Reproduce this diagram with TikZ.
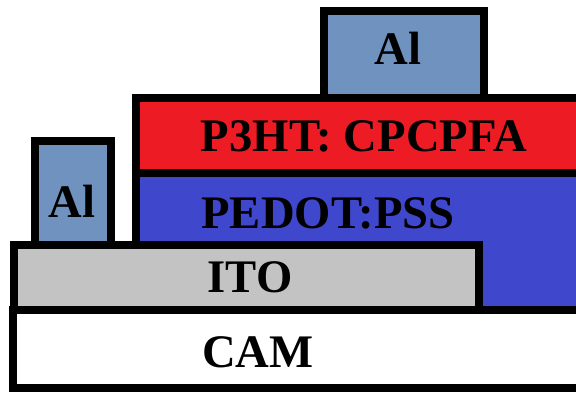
\documentclass[tikz,border=0pt]{standalone}
\usepackage{fontspec}
\setmainfont{Liberation Serif}
\usepackage{tikz}

\definecolor{alblue}{RGB}{112,146,190}
\definecolor{p3red}{RGB}{237,28,36}
\definecolor{pedblue}{RGB}{63,72,204}
\definecolor{itogray}{RGB}{195,195,195}

\tikzset{
  layer/.style={draw=black,line width=6.5pt},
  lbl/.style={inner sep=0pt,font=\fontsize{35}{38}\selectfont\bfseries,text=black}
}

\begin{document}
\begin{tikzpicture}[x=0.75pt,y=0.75pt,yscale=-1,xscale=1]
\useasboundingbox (0,0) rectangle (576,394);
\clip (0,0) rectangle (576,394);

% Shape: Rectangle [PEDOT:PSS]
\draw [layer,fill=pedblue] (136,173) rectangle (620,310);
% Shape: Rectangle [P3HT]
\draw [layer,fill=p3red] (136,98) rectangle (620,173);
% Shape: Rectangle [CAM]
\draw [layer,fill=white] (13,310) rectangle (620,388);
% Shape: Rectangle [ITO]
\draw [layer,fill=itogray] (14,245) rectangle (479,310);
% Shape: Rectangle [Al left]
\draw [layer,fill=alblue] (35,141) rectangle (111,245);
% Shape: Rectangle [Al top]
\draw [layer,fill=alblue] (324,11) rectangle (484,98);

% Text Node
\node [lbl] (altop) at (398,48) {Al};
% Text Node
\node [lbl] (p3ht) at (364,136) {P3HT: CPCPFA};
% Text Node
\node [lbl] (alleft) at (72,201) {Al};
% Text Node
\node [lbl] (pedot) at (328,213) {PEDOT:PSS};
% Text Node
\node [lbl] (ito) at (250,277) {ITO};
% Text Node
\node [lbl] (cam) at (258,352) {CAM};

\end{tikzpicture}
\end{document}
